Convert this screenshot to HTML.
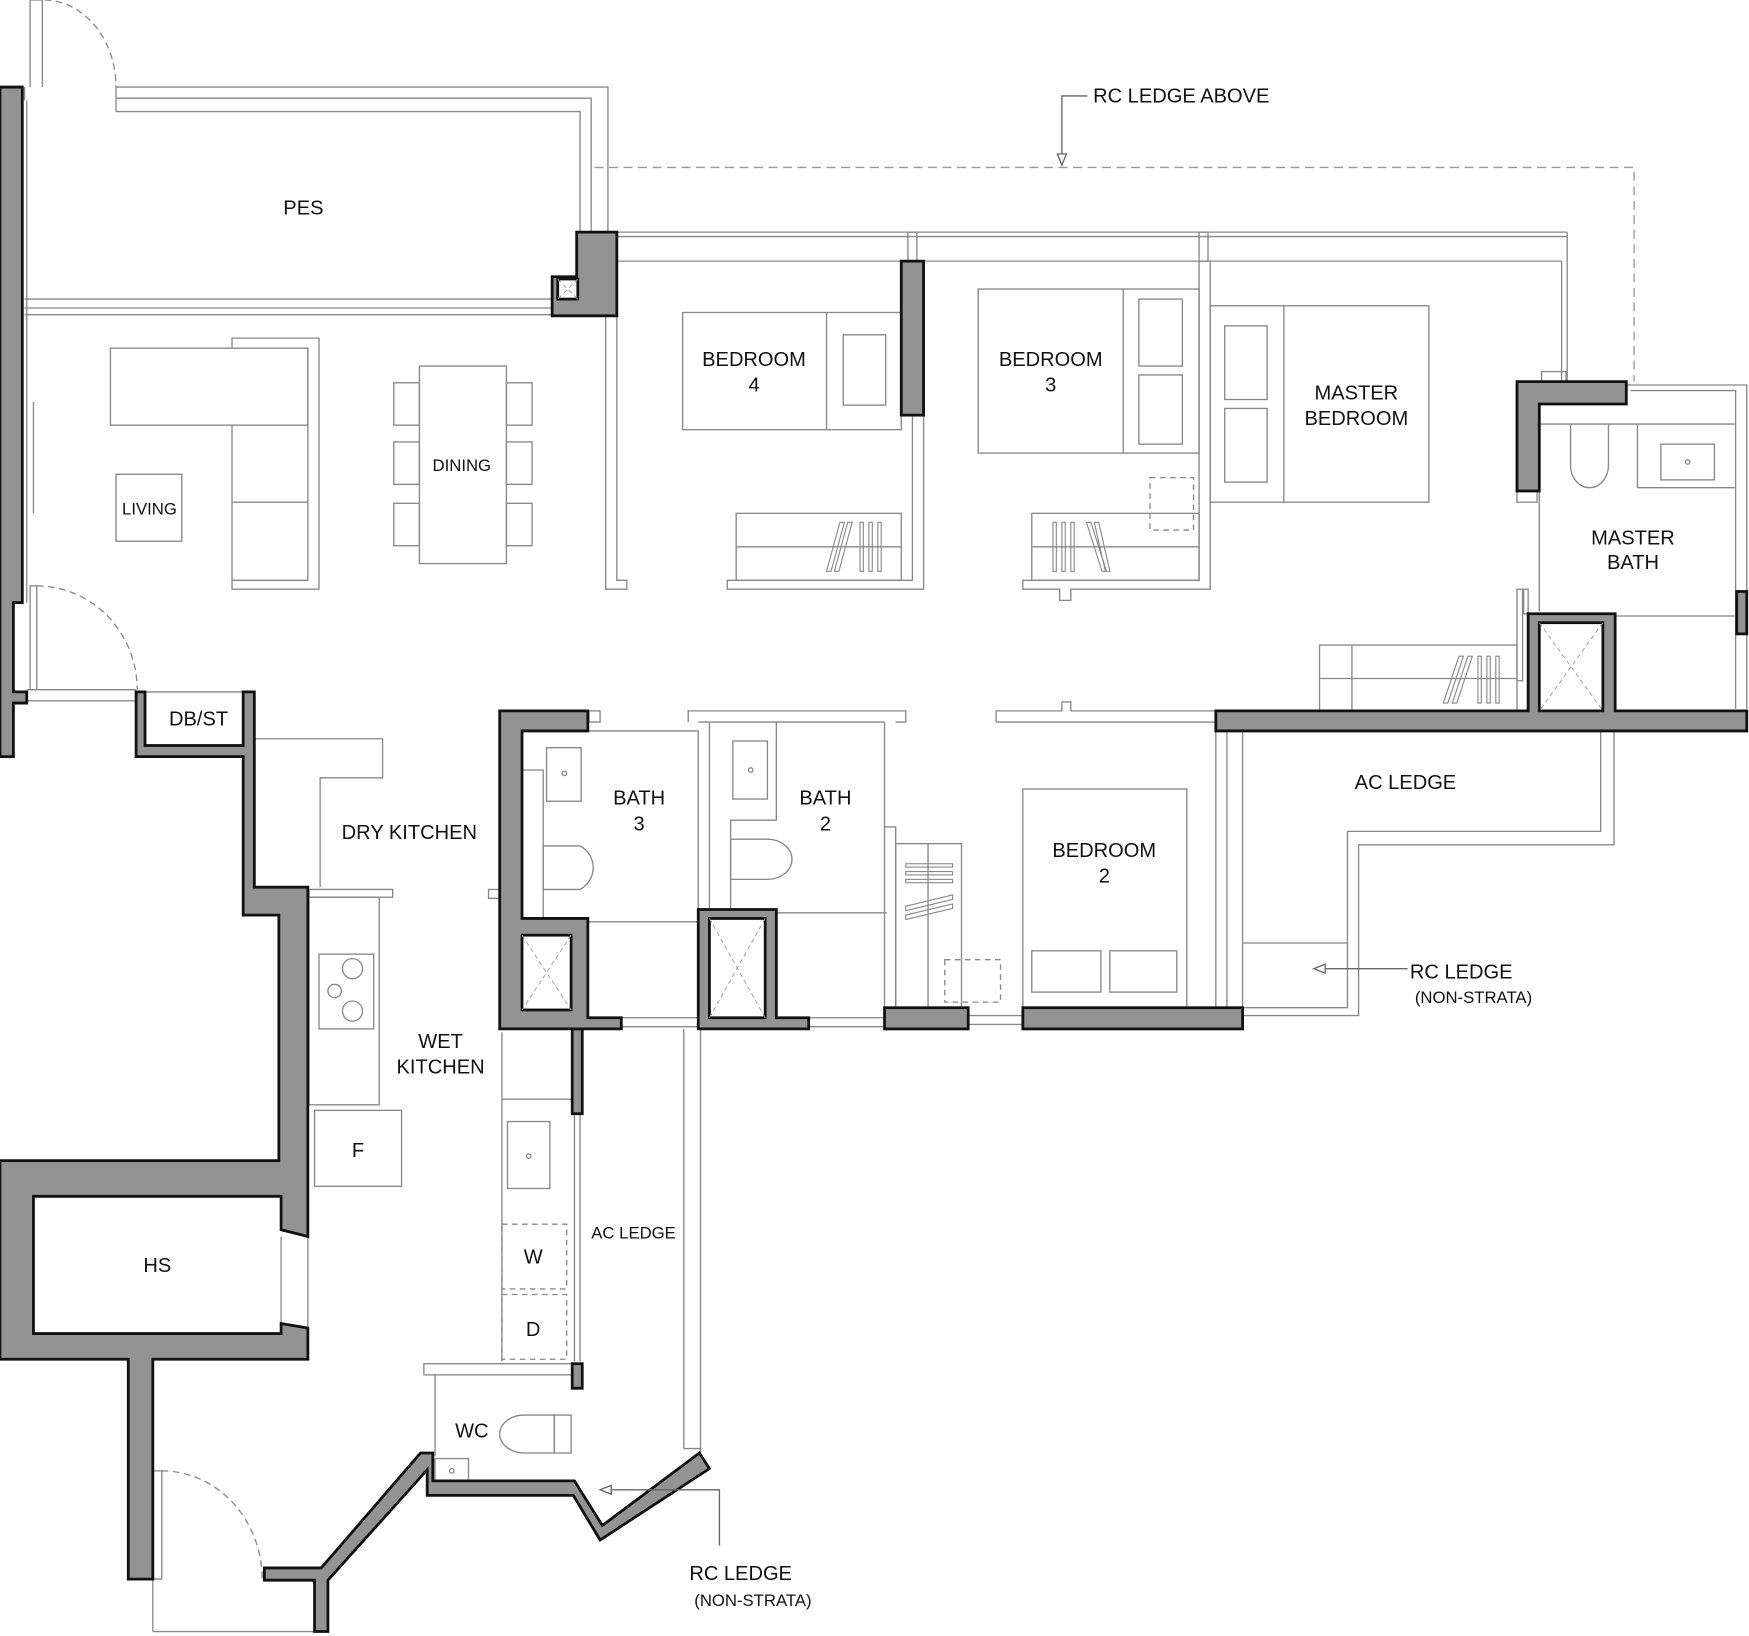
<!DOCTYPE html>
<html><head><meta charset="utf-8"><style>
html,body{margin:0;padding:0;background:#fff}
svg{display:block}
text{font-family:"Liberation Sans","DejaVu Sans",sans-serif;fill:#111;text-anchor:middle}
</style></head><body>
<svg width="1749" height="1636" viewBox="0 0 1568 1466" preserveAspectRatio="none" xmlns="http://www.w3.org/2000/svg">
<g fill="none" stroke="#888" stroke-width="1.2">
<line x1="27" y1="0" x2="27" y2="78"/><line x1="38" y1="0" x2="38" y2="78"/><line x1="27" y1="0" x2="38" y2="0"/>
<path d="M40 0 A 65 78 0 0 1 104 78" stroke-dasharray="6,4"/>
<line x1="104" y1="78" x2="104" y2="100"/>
<polyline points="22,78 22,90"/>
<polyline points="104,78 545,78 545,208"/>
<polyline points="104,88 530,88 530,208"/>
<polyline points="104,100 520,100 520,208"/>
<line x1="22" y1="268" x2="495" y2="268"/><line x1="22" y1="276" x2="495" y2="276"/><line x1="22" y1="282" x2="495" y2="282"/>
<line x1="24" y1="90" x2="24" y2="540"/><line x1="30" y1="360" x2="30" y2="460"/>
<line x1="553" y1="208" x2="1405" y2="208"/><line x1="553" y1="212" x2="1405" y2="212"/>
<line x1="553" y1="234" x2="1400" y2="234"/>
<line x1="1405" y1="208" x2="1405" y2="342"/><line x1="1400" y1="234" x2="1400" y2="342"/>
<rect x="1382" y="333" width="22" height="9"/>
<rect x="814" y="208" width="8" height="26"/><rect x="1075" y="208" width="8" height="26"/>
<polyline points="543,283 543,528 562,528 562,520 553,520 553,283"/>
<polyline points="818,372 818,520 652,520 652,528 828,528 828,372"/>
<polyline points="1075,234 1075,520 917,520 917,528 950,528 950,538 960,538 960,528 1085,528 1085,234"/>
<rect x="612" y="280" width="196" height="105"/><line x1="741" y1="280" x2="741" y2="385"/>
<rect x="756" y="300" width="38" height="63"/>
<rect x="660" y="460" width="148" height="60"/><line x1="660" y1="490" x2="808" y2="490"/>
<g stroke-width="1"><polygon points="753,468 757,468 745,512 741,512"/><polygon points="760,468 764,468 752,512 748,512"/>
<rect x="771" y="468" width="3" height="44"/><rect x="779" y="468" width="3" height="44"/><rect x="787" y="468" width="3" height="44"/></g>
<rect x="877" y="259" width="198" height="147"/><line x1="1007" y1="259" x2="1007" y2="406"/>
<rect x="1021" y="268" width="39" height="60"/><rect x="1021" y="336" width="39" height="62"/>
<rect x="1031" y="428" width="39" height="47" stroke-dasharray="5,4"/>
<rect x="925" y="460" width="150" height="60"/><line x1="925" y1="490" x2="1075" y2="490"/>
<g stroke-width="1"><rect x="944" y="468" width="3" height="44"/><rect x="952" y="468" width="3" height="44"/><rect x="960" y="468" width="3" height="44"/>
<polygon points="974,468 978,468 992,512 988,512"/><polygon points="981,468 985,468 995,512 991,512"/></g>
<rect x="1085" y="274" width="196" height="176"/><line x1="1151" y1="274" x2="1151" y2="450"/>
<rect x="1098" y="292" width="38" height="66"/><rect x="1098" y="366" width="38" height="66"/>
<polyline points="1458,345 1566,345 1566,635"/><polyline points="1462,350 1556,350 1556,635"/>
<line x1="1380" y1="362" x2="1380" y2="548"/>
<line x1="1380" y1="380" x2="1555" y2="380"/>
<path d="M1408 380 L1408 417 A 17 20 0 0 0 1442 417 L1442 380"/>
<polyline points="1468,380 1468,437 1555,437"/><rect x="1489" y="398" width="48" height="32"/>
<circle cx="1513" cy="414" r="2"/>
<line x1="1448" y1="552" x2="1555" y2="552"/>
<rect x="1360" y="440" width="18" height="10"/>
<rect x="1360" y="528" width="5" height="82"/><rect x="1366" y="528" width="4" height="22"/>
<rect x="1183" y="578" width="177" height="59"/><line x1="1183" y1="608" x2="1360" y2="608"/>
<line x1="1212" y1="578" x2="1212" y2="637"/>
<g stroke-width="1"><polygon points="1308,588 1312,588 1298,630 1294,630"/><polygon points="1316,588 1320,588 1306,630 1302,630"/>
<rect x="1325" y="588" width="3" height="42"/><rect x="1333" y="588" width="3" height="42"/><rect x="1341" y="588" width="3" height="42"/></g>
<rect x="99" y="312" width="177" height="69"/>
<polyline points="208,381 208,520 276,520 276,312"/><line x1="208" y1="450" x2="276" y2="450"/>
<polyline points="208,312 208,303 286,303 286,528 208,528 208,520"/>
<rect x="104" y="425" width="59" height="60"/>
<rect x="376" y="328" width="78" height="177"/>
<rect x="353" y="343" width="23" height="38"/><rect x="353" y="396" width="23" height="38"/><rect x="353" y="451" width="23" height="38"/>
<rect x="454" y="343" width="23" height="38"/><rect x="454" y="396" width="23" height="38"/><rect x="454" y="451" width="23" height="38"/>
<rect x="27" y="525" width="6" height="93"/>
<path d="M33 525 A 90 93 0 0 1 123 618" stroke-dasharray="6,4"/>
<line x1="24" y1="618" x2="122" y2="618"/><line x1="24" y1="628" x2="122" y2="628"/>
<line x1="130" y1="620" x2="218" y2="620"/>
<polyline points="228,662 343,662 343,697 287,697 287,795"/>
<rect x="277" y="797" width="75" height="7"/>
<rect x="277" y="804" width="63" height="186"/>
<rect x="286" y="855" width="49" height="67"/>
<circle cx="316" cy="868" r="9"/><circle cx="300" cy="888" r="6"/><circle cx="316" cy="906" r="9"/>
<rect x="282" y="995" width="78" height="68"/>
<line x1="252" y1="1108" x2="252" y2="1186"/><line x1="276" y1="1108" x2="276" y2="1190"/>
<rect x="528" y="637" width="10" height="10"/>
<polyline points="528,655 626,655 626,912"/>
<polyline points="468,690 487,690 487,823"/>
<rect x="490" y="670" width="31" height="48"/><circle cx="506" cy="693" r="2"/>
<path d="M487 758 L520 758 A 22 22 0 0 1 520 797 L487 797 Z"/>
<line x1="527" y1="826" x2="626" y2="826"/>
<rect x="438" y="797" width="10" height="8"/>
<polyline points="617,647 617,637 812,637 812,647 803,647"/>
<line x1="626" y1="647" x2="793" y2="647"/>
<polyline points="636,647 636,815"/><polyline points="655,815 655,735 696,735 696,647"/>
<rect x="657" y="664" width="31" height="52"/><circle cx="673" cy="690" r="2"/>
<path d="M655 752 L688 752 A 22 18 0 0 1 688 788 L655 788 Z"/>
<line x1="696" y1="818" x2="795" y2="818"/>
<polyline points="793,647 793,903"/><polyline points="793,741 803,741 803,903"/>
<line x1="557" y1="912" x2="626" y2="912"/><line x1="557" y1="920" x2="626" y2="920"/>
<line x1="725" y1="912" x2="793" y2="912"/><line x1="725" y1="920" x2="793" y2="920"/>
<line x1="868" y1="910" x2="917" y2="910"/><line x1="868" y1="918" x2="917" y2="918"/>
<polyline points="893,647 893,637 952,637 952,629 960,629 960,637 1090,637 1090,647 893,647"/>
<line x1="1090" y1="655" x2="1090" y2="903"/><line x1="1100" y1="655" x2="1100" y2="903"/>
<rect x="917" y="707" width="147" height="196"/>
<rect x="925" y="852" width="62" height="37"/><rect x="995" y="852" width="60" height="37"/>
<rect x="803" y="756" width="59" height="147"/><line x1="832" y1="756" x2="832" y2="903"/>
<g stroke-width="1"><rect x="812" y="774" width="42" height="3"/><rect x="812" y="781" width="42" height="3"/><rect x="812" y="788" width="42" height="3"/>
<polygon points="812,812 854,802 854,806 812,816"/><polygon points="812,820 854,810 854,814 812,824"/></g>
<rect x="847" y="860" width="50" height="38" stroke-dasharray="5,4"/>
<polyline points="1114,655 1114,910 1218,910 1218,757 1447,757 1447,655"/>
<polyline points="1114,903 1208,903 1208,745 1435,745 1435,655"/>
<line x1="1114" y1="845" x2="1208" y2="845"/>
<line x1="450" y1="925" x2="450" y2="1220"/>
<line x1="450" y1="985" x2="513" y2="985"/>
<line x1="515" y1="998" x2="515" y2="1220"/><line x1="520" y1="998" x2="520" y2="1220"/>
<rect x="455" y="1005" width="38" height="60"/><circle cx="474" cy="1036" r="2"/>
<rect x="450" y="1097" width="58" height="58" stroke-dasharray="5,4"/>
<rect x="450" y="1160" width="58" height="58" stroke-dasharray="5,4"/>
<line x1="613" y1="922" x2="613" y2="1298"/><line x1="628" y1="922" x2="628" y2="1304"/>
<line x1="613" y1="1298" x2="628" y2="1298"/>
<rect x="380" y="1222" width="140" height="10"/>
<line x1="390" y1="1232" x2="390" y2="1305"/>
<path d="M497 1268 L497 1302 L470 1302 A 22 17 0 0 1 470 1268 Z"/>
<rect x="497" y="1268" width="15" height="34"/>
<rect x="390" y="1307" width="30" height="20"/><circle cx="405" cy="1318" r="2"/>
<rect x="137" y="1318" width="8" height="97"/>
<path d="M145 1318 A 90 97 0 0 1 235 1415" stroke-dasharray="6,4"/>
<line x1="137" y1="1415" x2="137" y2="1462"/><line x1="137" y1="1462" x2="282" y2="1462"/>
</g>
<g fill="#939393" stroke="#111" stroke-width="2.5" stroke-linejoin="miter">
<polygon points="0,78 20,78 20,540 12,540 12,620 24,620 24,630 12,630 12,678 0,678"/>
<polygon points="517,208 553,208 553,283 495,283 495,248 517,248"/>
<rect x="808" y="234" width="20" height="138"/>
<polygon points="1360,342 1458,342 1458,362 1380,362 1380,440 1360,440"/>
<rect x="1557" y="530" width="9" height="38"/>
<polygon points="1090,637 1370,637 1370,550 1448,550 1448,637 1566,637 1566,655 1090,655"/>
<polygon points="122,620 130,620 130,668 218,668 218,620 228,620 228,795 276,795 276,1108 252,1102 252,1072 30,1072 30,1195 252,1195 252,1186 276,1190 276,1218 137,1218 137,1415 115,1415 115,1218 0,1218 0,1040 250,1040 250,820 218,820 218,678 130,678 122,678"/>
<polygon points="448,637 527,637 527,655 468,655 468,823 527,823 527,912 557,912 557,922 448,922"/>
<polygon points="626,815 696,815 696,912 725,912 725,922 626,922"/>
<rect x="513" y="922" width="9" height="76"/>
<rect x="793" y="903" width="75" height="19"/>
<rect x="917" y="903" width="197" height="19"/>
<rect x="513" y="1222" width="9" height="22"/>
<polygon points="237,1405 288,1405 377,1302 388,1302 388,1327 515,1327 540,1367 627,1302 636,1316 538,1380 514,1340 383,1340 383,1317 294,1416 294,1462 282,1462 282,1416 237,1416"/>
</g>
<g fill="#fff" stroke="#111" stroke-width="2.5">
<rect x="500" y="250" width="18" height="18"/>
<rect x="1380" y="558" width="57" height="79"/>
<rect x="468" y="838" width="44" height="67"/>
<rect x="636" y="823" width="50" height="89"/>
</g>
<g stroke="#999" stroke-width="0.8" stroke-dasharray="4,3">
<line x1="500" y1="250" x2="518" y2="268"/><line x1="518" y1="250" x2="500" y2="268"/>
<line x1="1380" y1="558" x2="1437" y2="637"/><line x1="1437" y1="558" x2="1380" y2="637"/>
<line x1="468" y1="838" x2="512" y2="905"/><line x1="512" y1="838" x2="468" y2="905"/>
<line x1="636" y1="823" x2="686" y2="912"/><line x1="686" y1="823" x2="636" y2="912"/>
</g>
<g fill="none" stroke="#999" stroke-width="1.2">
<polyline points="533,150 1465,150 1465,342" stroke-dasharray="8,5"/>
<polyline points="975,86 952,86 952,146" stroke="#666"/>
<polygon points="948,138 956,138 952,148" fill="#fff" stroke="#666"/>
<polyline points="1262,868 1180,868" stroke="#666"/>
<polygon points="1188,864 1188,872 1178,868" fill="#fff" stroke="#666"/>
<polyline points="645,1385 645,1335 540,1335" stroke="#666"/>
<polygon points="548,1331 548,1339 538,1335" fill="#fff" stroke="#666"/>
</g>
<g font-size="18">
<text x="1059" y="92">RC LEDGE ABOVE</text>
<text x="272" y="192">PES</text>
<text x="676" y="328">BEDROOM</text><text x="676" y="351">4</text>
<text x="942" y="328">BEDROOM</text><text x="942" y="351">3</text>
<text x="1216" y="358">MASTER</text><text x="1216" y="381">BEDROOM</text>
<text x="1464" y="488">MASTER</text><text x="1464" y="510">BATH</text>
<text x="1260" y="707">AC LEDGE</text>
<text x="178" y="650">DB/ST</text>
<text x="367" y="752">DRY KITCHEN</text>
<text x="573" y="721">BATH</text><text x="573" y="744">3</text>
<text x="740" y="721">BATH</text><text x="740" y="744">2</text>
<text x="990" y="768">BEDROOM</text><text x="990" y="791">2</text>
<text x="1310" y="877">RC LEDGE</text>
<text x="395" y="939">WET</text><text x="395" y="962">KITCHEN</text>
<text x="321" y="1037">F</text>
<text x="141" y="1140">HS</text>
<text x="478" y="1132">W</text>
<text x="478" y="1197">D</text>
<text x="423" y="1288">WC</text>
<text x="664" y="1416">RC LEDGE</text>
</g>
<g font-size="15">
<text x="134" y="461">LIVING</text>
<text x="414" y="422">DINING</text>
<text x="568" y="1110">AC LEDGE</text>
<text x="1321" y="899">(NON-STRATA)</text>
<text x="675" y="1439">(NON-STRATA)</text>
</g>
</svg>
</body></html>
